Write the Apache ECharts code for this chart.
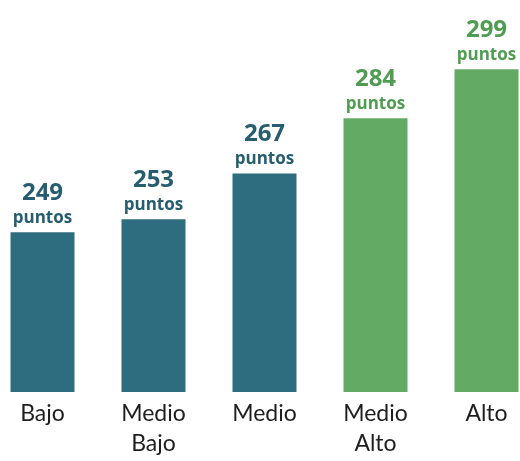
<!DOCTYPE html>
<html><head><meta charset="utf-8">
<script src="https://cdn.jsdelivr.net/npm/echarts@6/dist/echarts.min.js"></script>
<style>html,body{margin:0;padding:0;background:#fff;overflow:hidden}#c{width:555px;height:461px;margin-left:-13.5px}</style>
</head><body><div id="c"></div>
<script>
const categories = ['Bajo', 'Medio\nBajo', 'Medio', 'Medio\nAlto', 'Alto'];
const values = [249, 253, 267, 284, 299];
const barColors = ['#2e6d7f', '#2e6d7f', '#2e6d7f', '#63aa64', '#63aa64'];
const labelColors = ['#265d6f', '#265d6f', '#265d6f', '#4f9c52', '#4f9c52'];
const unit = 'puntos';

const chart = echarts.init(document.getElementById('c'));
chart.setOption({
  animation: false,
  grid: { left: 0, right: 0, top: 66, bottom: 69 },
  xAxis: {
    type: 'category', data: categories,
    axisLine: { show: false }, axisTick: { show: false },
    axisLabel: { color: '#1e1e1e', fontSize: 23, fontFamily: 'Lato', lineHeight: 30, margin: 7 }
  },
  yAxis: { type: 'value', min: 200, max: 300, show: false, splitLine: { show: false } },
  series: [{
    type: 'bar', barWidth: 64,
    data: values.map((v, i) => ({
      value: v,
      itemStyle: { color: barColors[i] },
      label: { rich: {
        v: { fontSize: 24, fontWeight: 'bold', color: labelColors[i], fontFamily: 'Open Sans', lineHeight: 30 },
        p: { fontSize: 17, fontWeight: 'bold', color: labelColors[i], fontFamily: 'Open Sans', lineHeight: 20 }
      } }
    })),
    label: { show: true, position: 'top', distance: 4, formatter: p => '{v|' + p.value + '}\n{p|' + unit + '}' }
  }]
});
</script></body></html>
